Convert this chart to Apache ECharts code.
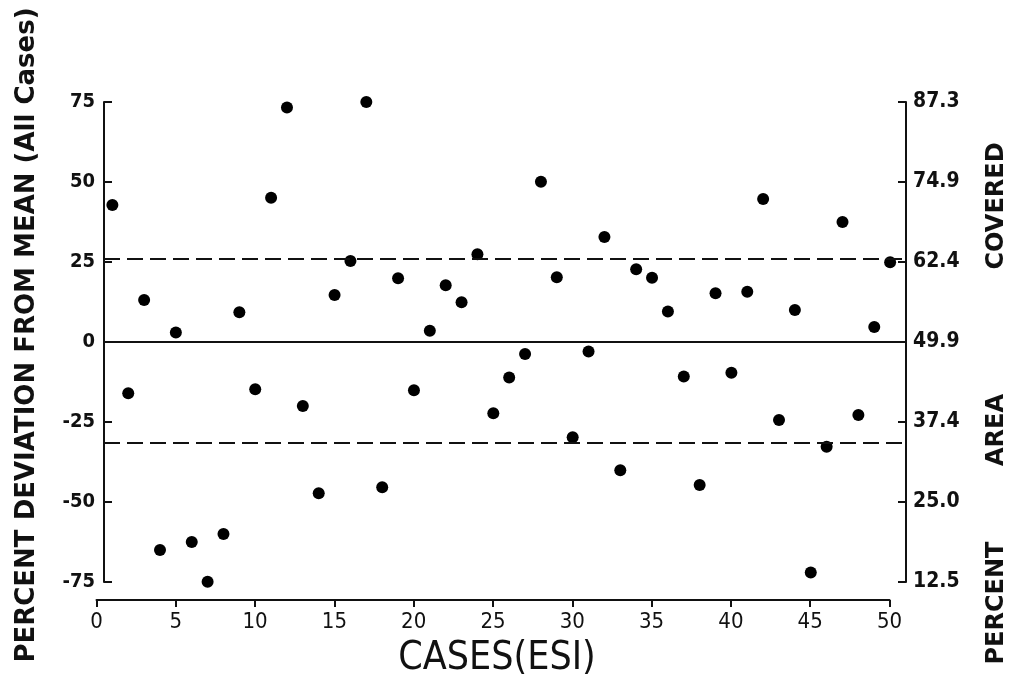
<!DOCTYPE html>
<html>
<head>
<meta charset="utf-8">
<script src="https://cdn.jsdelivr.net/npm/echarts@6/dist/echarts.min.js"></script>
<style>
html,body{margin:0;padding:0;background:#fff;}
#chart{width:1016px;height:682px;}
#err{position:absolute;left:150px;top:120px;font:12px monospace;color:red;white-space:pre;}
</style>
</head>
<body>
<div id="chart"></div>
<div id="err"></div>
<script>
// ---- data ----
var cases = [1,2,3,4,5,6,7,8,9,10,11,12,13,14,15,16,17,18,19,20,21,22,23,24,25,26,27,28,29,30,31,32,33,34,35,36,37,38,39,40,41,42,43,44,45,46,47,48,49,50];
var deviation = [42.8,-16.0,13.1,-65.0,3.0,-62.5,-74.9,-60.0,9.3,-14.8,45.1,73.3,-20.0,-47.3,14.7,25.3,75.0,-45.4,19.9,-15.1,3.5,17.7,12.4,27.4,-22.3,-11.1,-3.75,50.1,20.2,-29.8,-3.0,32.8,-40.1,22.7,20.1,9.5,-10.8,-44.7,15.2,-9.6,15.7,44.7,-24.4,10.0,-72.0,-32.7,37.5,-22.8,4.7,24.9];
var meanLine = [0];
var limitLines = [26, -31.5];
var leftTicks = [-75,-50,-25,0,25,50,75];
var rightTickLabels = ['12.5','25.0','37.4','49.9','62.4','74.9','87.3'];
var xTicks = [0,5,10,15,20,25,30,35,40,45,50];
var xTitle = 'CASES(ESI)';
var leftTitle = 'PERCENT DEVIATION FROM MEAN (All Cases)';
var rightTitleWords = ['PERCENT', 'AREA', 'COVERED'];

var points = cases.map(function(c, i){ return [c, deviation[i]]; });

var labelFont = '"Liberation Sans Narrow","DejaVu Sans Condensed",sans-serif';
var titleFont = '"DejaVu Sans",sans-serif';

// layout (pixels)
var gridLeft = 96.5, gridRight = 110, xMax = 51;
var leftAxisShift = 7.5;
var plotWidth = 1016 - gridLeft - gridRight;
var lineStartX = leftAxisShift / (plotWidth / xMax); // where the left axis sits, in x units

try {
var chart = echarts.init(document.getElementById('chart'), null, {renderer:'canvas'});
function hLine(v, type) {
  return [
    {xAxis: lineStartX, yAxis: v, lineStyle: {type: type, color: '#111', width: 2}},
    {xAxis: xMax, yAxis: v}
  ];
}
var option = {
  backgroundColor: '#ffffff',
  animation: false,
  grid: [
    {left: gridLeft, right: gridRight, top: 102, bottom: 100},
    {left: gridLeft, right: 126.5, top: 590, height: 10}
  ],
  xAxis: [
    {gridIndex: 0, type: 'value', min: 0, max: xMax,
     axisLine: {show: false}, axisTick: {show: false}, axisLabel: {show: false}, splitLine: {show: false}},
    {gridIndex: 1, type: 'value', min: xTicks[0], max: xTicks[xTicks.length-1], interval: 5,
     axisLine: {show: true, lineStyle: {color: '#111', width: 2}},
     axisTick: {show: true, inside: false, length: 7, lineStyle: {color: '#111', width: 2}},
     axisLabel: {show: true, margin: 11, color: '#111', fontSize: 22, fontFamily: labelFont},
     splitLine: {show: false}}
  ],
  yAxis: [
    {gridIndex: 0, type: 'value', position: 'left', offset: -leftAxisShift,
     min: leftTicks[0], max: leftTicks[leftTicks.length-1], interval: 25,
     axisLine: {show: true, lineStyle: {color: '#111', width: 2}},
     axisTick: {show: true, inside: true, length: 8, lineStyle: {color: '#111', width: 2}},
     axisLabel: {show: true, margin: 9, color: '#111', fontSize: 20, fontWeight: 'bold', fontFamily: labelFont},
     splitLine: {show: false}},
    {gridIndex: 0, type: 'value', position: 'right',
     min: leftTicks[0], max: leftTicks[leftTicks.length-1], interval: 25,
     axisLine: {show: true, lineStyle: {color: '#111', width: 2}},
     axisTick: {show: true, inside: true, length: 8, lineStyle: {color: '#111', width: 2}},
     axisLabel: {show: true, margin: 7, color: '#111', fontSize: 21, fontWeight: 'bold', fontFamily: labelFont,
       formatter: function(v){ var k = Math.round((v - leftTicks[0]) / 25); return rightTickLabels[k]; }},
     splitLine: {show: false}},
    {gridIndex: 1, type: 'value', min: 0, max: 1, show: false}
  ],
  series: [
    {
      type: 'scatter', xAxisIndex: 0, yAxisIndex: 0,
      data: points, symbol: 'circle', symbolSize: 12,
      itemStyle: {color: '#000', opacity: 1},
      markLine: {
        silent: true, symbol: 'none', label: {show: false},
        data: [
          hLine(meanLine[0], 'solid'),
          hLine(limitLines[0], [16, 7]),
          hLine(limitLines[1], [16, 7])
        ]
      },
      z: 3
    }
  ],
  graphic: [
    {type: 'text', x: 27, y: 335, rotation: Math.PI/2,
     style: {text: leftTitle, font: 'bold 26px ' + titleFont, fill: '#111', align: 'center', verticalAlign: 'middle'}},
    {type: 'text', x: 997, y: 603, rotation: Math.PI/2,
     style: {text: rightTitleWords[0], font: 'bold 24px ' + titleFont, fill: '#111', align: 'center', verticalAlign: 'middle'}},
    {type: 'text', x: 997, y: 430, rotation: Math.PI/2,
     style: {text: rightTitleWords[1], font: 'bold 24px ' + titleFont, fill: '#111', align: 'center', verticalAlign: 'middle'}},
    {type: 'text', x: 997, y: 206, rotation: Math.PI/2,
     style: {text: rightTitleWords[2], font: 'bold 24px ' + titleFont, fill: '#111', align: 'center', verticalAlign: 'middle'}},
    {type: 'text', x: 497, y: 659,
     style: {text: xTitle, font: '39px ' + labelFont, fill: '#111', align: 'center', verticalAlign: 'middle'}}
  ]
};
chart.setOption(option);
} catch (e) {
  document.getElementById('err').textContent = String(e && e.stack || e);
}
</script>
</body>
</html>
